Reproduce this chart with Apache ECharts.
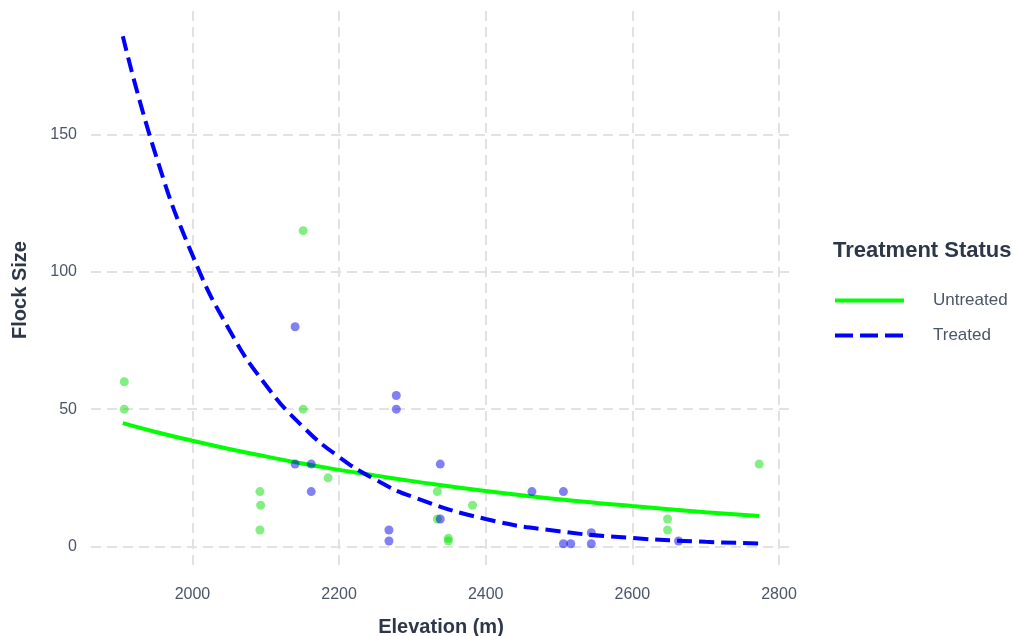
<!DOCTYPE html>
<html>
<head>
<meta charset="utf-8">
<script src="https://cdn.jsdelivr.net/npm/echarts@6/dist/echarts.min.js"></script>
<style>
  html, body { margin: 0; padding: 0; background: #fff; }
  #chart { width: 1014px; height: 636px; }
</style>
</head>
<body>
<div id="chart"></div>
<script>
// --- data ---
const untreatedPoints = [
  [1907, 60], [1907, 50], [2092, 20], [2093, 15], [2092, 6],
  [2151, 115], [2151, 50], [2185, 25], [2334, 20], [2334, 10],
  [2349, 3], [2349, 2], [2382, 15], [2648, 10], [2648, 6], [2773, 30]
];
const treatedPoints = [
  [2140, 80], [2140, 30], [2162, 30], [2162, 20], [2268, 6], [2268, 2],
  [2278, 55], [2278, 50], [2338, 30], [2338, 10], [2463, 20], [2506, 20],
  [2506, 1], [2516, 1], [2544, 5], [2544, 1], [2663, 2]
];
// fitted curves
const curveX = [1905, 1950, 2000, 2050, 2100, 2150, 2200, 2250, 2300, 2400, 2500, 2600, 2700, 2773];
const untreatedCurve = [44.9, 41.7, 38.5, 35.5, 32.8, 30.2, 27.9, 25.8, 23.8, 20.2, 17.2, 14.7, 12.5, 11.1];
const treatedCurve = [185.8, 142.5, 106.1, 79.0, 58.8, 43.8, 32.6, 24.3, 18.1, 10.0, 5.55, 3.08, 1.71, 1.11];

const xTicks = [2000, 2200, 2400, 2600, 2800];
const yTicks = [0, 50, 100, 150];

const GREEN = '#00ff00';
const BLUE = '#0000ff';
const TEXT_DARK = '#2d3748';
const TEXT_GREY = '#4a5568';
const GRID = '#e2e2e2';
const FONT = 'Liberation Sans, Arial, sans-serif';

const chart = echarts.init(document.getElementById('chart'));

const pair = (xs, ys) => xs.map((x, i) => [x, ys[i]]);

const option = {
  animation: false,
  backgroundColor: '#fff',
  title: {
    text: 'Treatment Status',
    left: 828,
    top: 235,
    textStyle: { color: TEXT_DARK, fontSize: 22, fontWeight: 'bold', fontFamily: FONT }
  },
  legend: {
    orient: 'vertical',
    left: 828,
    top: 287,
    itemWidth: 69,
    itemHeight: 14,
    itemGap: 18,
    data: [
      { name: 'Untreated' },
      { name: 'Treated', lineStyle: { type: [18, 7] } }
    ],
    itemStyle: { opacity: 0 },
    lineStyle: { width: 4 },
    textStyle: { color: TEXT_GREY, fontSize: 17, padding: [0, 0, 0, 24], fontFamily: FONT }
  },
  grid: { left: 91, right: 223, top: 11, bottom: 67, outerBoundsMode: 'none' },
  xAxis: {
    type: 'value',
    min: 1861.6,
    max: 2816.4,
    name: 'Elevation (m)',
    nameLocation: 'middle',
    nameGap: 48,
    nameTextStyle: { color: TEXT_DARK, fontSize: 20, fontWeight: 'bold', fontFamily: FONT },
    axisLine: { show: false },
    axisTick: { show: false, customValues: xTicks },
    axisLabel: {
      customValues: xTicks, color: TEXT_GREY, fontSize: 16, margin: 18, fontFamily: FONT,
      formatter: v => String(v)
    },
    splitLine: { show: true, lineStyle: { color: GRID, width: 2, type: [10, 6] } }
  },
  yAxis: {
    type: 'value',
    min: -8.2,
    max: 195,
    name: 'Flock Size',
    nameLocation: 'middle',
    nameGap: 61,
    nameRotate: 90,
    nameTextStyle: { color: TEXT_DARK, fontSize: 20, fontWeight: 'bold', fontFamily: FONT },
    axisLine: { show: false },
    axisTick: { show: false, customValues: yTicks },
    axisLabel: {
      customValues: yTicks, color: TEXT_GREY, fontSize: 16, margin: 14, fontFamily: FONT,
      formatter: v => String(v)
    },
    splitLine: { show: true, lineStyle: { color: GRID, width: 2, type: [10, 6] } }
  },
  series: [
    {
      name: 'Untreated',
      type: 'line',
      data: pair(curveX, untreatedCurve),
      smooth: true,
      symbol: 'none',
      color: GREEN,
      lineStyle: { color: GREEN, width: 4 }
    },
    {
      name: 'Treated',
      type: 'line',
      data: pair(curveX, treatedCurve),
      smooth: true,
      symbol: 'none',
      color: BLUE,
      lineStyle: { color: BLUE, width: 4, type: [15, 7] }
    },
    {
      name: 'Untreated',
      type: 'scatter',
      data: untreatedPoints,
      symbolSize: 9,
      itemStyle: { color: 'rgba(0, 225, 0, 0.62)' },
      z: 3
    },
    {
      name: 'Treated',
      type: 'scatter',
      data: treatedPoints,
      symbolSize: 9,
      itemStyle: { color: 'rgba(0, 0, 235, 0.62)' },
      z: 3
    }
  ]
};

chart.setOption(option);
</script>
</body>
</html>
